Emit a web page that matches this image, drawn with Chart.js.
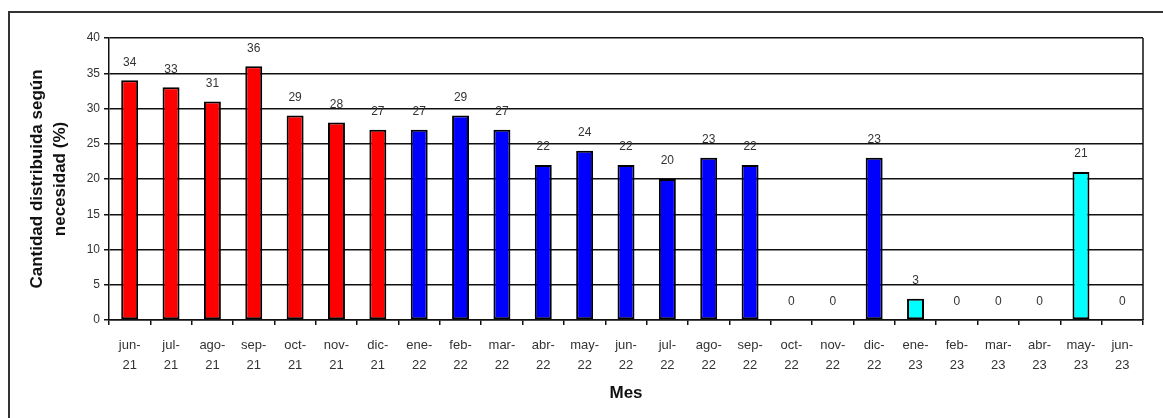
<!DOCTYPE html>
<html>
<head>
<meta charset="utf-8">
<script src="https://cdn.jsdelivr.net/npm/chart.js@4"></script>
<style>
  html, body { margin: 0; padding: 0; background: #fff; overflow: hidden; }
  #frame { position: absolute; left: 8px; top: 11px; width: 1300px; height: 600px; border: 2px solid #333; box-sizing: border-box; }
  #wrap { position: absolute; left: 0; top: 0; width: 1163px; height: 418px; }
</style>
</head>
<body>
<div id="frame"></div>
<div id="wrap"><canvas id="c"></canvas></div>
<script>
const months = ['jun','jul','ago','sep','oct','nov','dic','ene','feb','mar','abr','may','jun','jul','ago','sep','oct','nov','dic','ene','feb','mar','abr','may','jun'];
const years  = ['21','21','21','21','21','21','21','22','22','22','22','22','22','22','22','22','22','22','22','23','23','23','23','23','23'];
const values = [34,33,31,36,29,28,27,27,29,27,22,24,22,20,23,22,0,0,23,3,0,0,0,21,0];
const yTicks = { min: 0, max: 40, step: 5 };
const yTitle = ['Cantidad distribuida según', 'necesidad (%)'];
const xTitle = 'Mes';

const yearColors = { '21': '#FF0000', '22': '#0000FF', '23': '#00FFFF' };
const labels = months.map((m, i) => [m + '-', years[i]]);
const FONT = "'Liberation Sans', Arial, sans-serif";

const valueLabels = {
  id: 'valueLabels',
  afterDatasetsDraw(chart) {
    const ctx = chart.ctx;
    const meta = chart.getDatasetMeta(0);
    ctx.save();
    ctx.font = '12px ' + FONT;
    ctx.fillStyle = '#333';
    ctx.textAlign = 'center';
    ctx.textBaseline = 'middle';
    meta.data.forEach((bar, i) => {
      ctx.fillText(String(chart.data.datasets[0].data[i]), bar.x, bar.y - 18);
    });
    ctx.restore();
  }
};
const rightEdge = {
  id: 'rightEdge',
  afterDraw(chart) {
    const { ctx, chartArea: a } = chart;
    ctx.save();
    ctx.strokeStyle = '#111';
    ctx.lineWidth = 1.5;
    ctx.beginPath();
    ctx.moveTo(a.right, a.top);
    ctx.lineTo(a.right, a.bottom);
    ctx.stroke();
    ctx.restore();
  }
};

new Chart(document.getElementById('c'), {
  type: 'bar',
  data: {
    labels: labels,
    datasets: [{
      data: values,
      backgroundColor: years.map(y => yearColors[y]),
      borderColor: '#000',
      borderWidth: 2,
      borderSkipped: false,
      barPercentage: 0.41,
      categoryPercentage: 1.0
    }]
  },
  options: {
    responsive: true,
    maintainAspectRatio: false,
    animation: false,
    devicePixelRatio: 1,
    layout: { padding: { left: 0, top: 38, right: 20, bottom: 0 } },
    plugins: { legend: { display: false }, tooltip: { enabled: false } },
    scales: {
      x: {
        grid: { display: true, drawOnChartArea: false, drawTicks: true, tickLength: 5, color: '#111', lineWidth: 1.5 },
        border: { display: true, color: '#111', width: 1.5 },
        ticks: { color: '#333', maxRotation: 0, minRotation: 0, autoSkip: false, padding: 10,
                 font: { family: FONT, size: 13, lineHeight: 1.55 } },
        title: { display: true, text: xTitle, color: '#111', padding: { top: 0, bottom: 14 },
                 font: { family: FONT, size: 17, weight: 'bold', lineHeight: 1.2 } },
        afterFit(scale) { scale.height = 98; }
      },
      y: {
        min: yTicks.min, max: yTicks.max,
        grid: { color: '#111', lineWidth: 1.5, tickLength: 5 },
        border: { display: true, color: '#111', width: 1.5 },
        ticks: { stepSize: yTicks.step, color: '#333', padding: 4,
                 font: { family: FONT, size: 12 } },
        title: { display: true, text: yTitle, color: '#111', padding: { top: 26, bottom: 0 },
                 font: { family: FONT, size: 17, weight: 'bold', lineHeight: 1.35 } },
        afterFit(scale) { scale.width = 109; }
      }
    }
  },
  plugins: [valueLabels, rightEdge]
});
</script>
</body>
</html>
